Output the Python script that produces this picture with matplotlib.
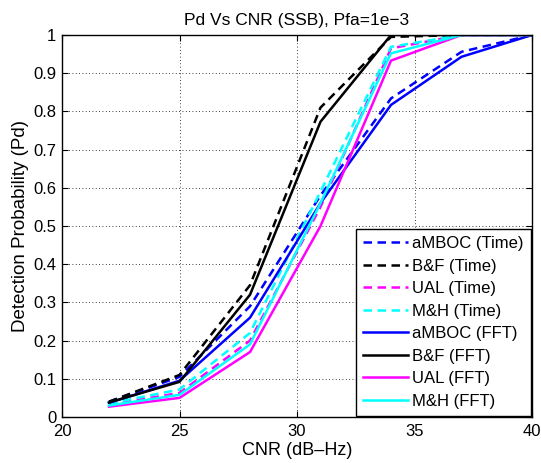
import numpy as np
import matplotlib
matplotlib.use("Agg")
import matplotlib.pyplot as plt

plt.rcParams['font.family'] = ['Liberation Sans', 'DejaVu Sans']

cnr = [22, 25, 28, 31, 34, 37, 40]

# Time-domain results
amboc_time = [0.040, 0.105, 0.290, 0.580, 0.834, 0.956, 1.0]
bf_time = [0.040, 0.110, 0.345, 0.810, 0.995, 1.0, 1.0]
ual_time = [0.032, 0.063, 0.200, 0.550, 0.965, 1.0, 1.0]
mh_time = [0.035, 0.072, 0.220, 0.590, 0.969, 1.0, 1.0]

# FFT results
amboc_fft = [0.037, 0.095, 0.260, 0.560, 0.817, 0.943, 1.0]
bf_fft = [0.038, 0.092, 0.320, 0.773, 1.0, 1.0, 1.0]
ual_fft = [0.027, 0.050, 0.170, 0.500, 0.933, 1.0, 1.0]
mh_fft = [0.030, 0.058, 0.190, 0.560, 0.952, 1.0, 1.0]

labels = ["aMBOC (Time)", "B&F (Time)", "UAL (Time)", "M&H (Time)",
          "aMBOC (FFT)", "B&F (FFT)", "UAL (FFT)", "M&H (FFT)"]
colors = ["#0000ff", "#000000", "#ff00ff", "#00ffff"]

xticks = [20, 25, 30, 35, 40]
yticks = [0, 0.1, 0.2, 0.3, 0.4, 0.5, 0.6, 0.7, 0.8, 0.9, 1]
yticklabels = ["0", "0.1", "0.2", "0.3", "0.4", "0.5", "0.6", "0.7", "0.8", "0.9", "1"]

fig = plt.figure(figsize=(5.41, 4.63), dpi=100)
ax = fig.add_axes([0.1146, 0.0994, 0.8688, 0.825])

time_series = [amboc_time, bf_time, ual_time, mh_time]
fft_series = [amboc_fft, bf_fft, ual_fft, mh_fft]

for i, ys in enumerate(time_series):
    ax.plot(cnr, ys, color=colors[i], lw=1.8, linestyle=(0, (3.4, 2.2)), label=labels[i])
for i, ys in enumerate(fft_series):
    ax.plot(cnr, ys, color=colors[i], lw=1.8, linestyle='-', label=labels[4 + i])

ax.set_xlim(20, 40)
ax.set_ylim(0, 1)
ax.set_xticks(xticks)
ax.set_yticks(yticks)
ax.set_yticklabels(yticklabels)
ax.tick_params(direction='in', top=True, right=True, labelsize=12, length=4)
ax.tick_params(axis='x', pad=5)
ax.tick_params(axis='y', pad=4)
ax.grid(True, color='black', linestyle=(0, (1, 3)), linewidth=0.6)
for s in ax.spines.values():
    s.set_linewidth(1.0)

ax.set_title("Pd Vs CNR (SSB), Pfa=1e\u22123", fontsize=12.5, pad=7)
ax.set_xlabel("CNR (dB\u2013Hz)", fontsize=13, labelpad=2)
ax.set_ylabel("Detection Probability (Pd)", fontsize=13.5, labelpad=3)

leg = ax.legend(loc='lower right', fontsize=12, handlelength=2.7, fancybox=False,
                framealpha=1, edgecolor='black', borderaxespad=0.05,
                labelspacing=0.45, handletextpad=0.25, borderpad=0.45)
leg.get_frame().set_linewidth(1.0)

fig.savefig("out.png", dpi=100)
